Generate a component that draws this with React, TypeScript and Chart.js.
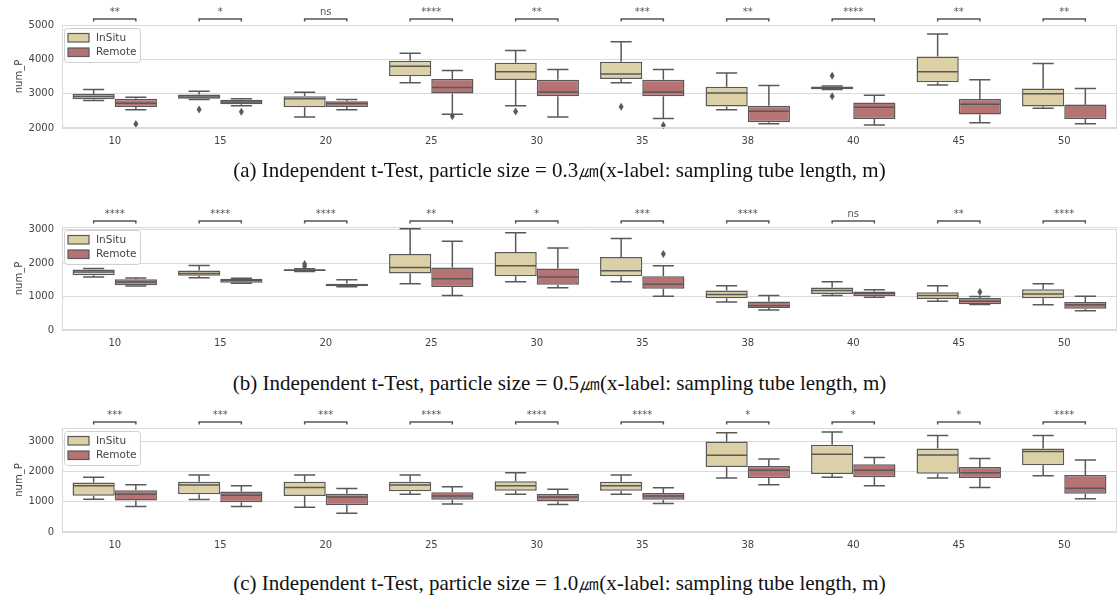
import React, { useEffect, useRef } from 'react';
import { Chart, registerables } from 'chart.js';
Chart.register(...registerables);

const categories = ['10', '15', '20', '25', '30', '35', '38', '40', '45', '50'];
const seriesNames = ['InSitu', 'Remote'];
const yTickValues = [0, 1000, 2000, 3000, 4000, 5000];

// five-number summaries per category: [whiskerLow, q1, median, q3, whiskerHigh]
const aInSitu = [
  [2800, 2840, 2920, 2990, 3120], [2830, 2850, 2900, 2975, 3070], [2320, 2605, 2850, 2925, 3040],
  [3315, 3510, 3800, 3960, 4180], [2650, 3395, 3635, 3900, 4260], [3315, 3430, 3570, 3930, 4510],
  [2535, 2625, 3020, 3200, 3600], [3120, 3130, 3170, 3210, 3225], [3255, 3335, 3635, 4085, 4740],
  [2575, 2625, 2995, 3150, 3880],
];
const aRemote = [
  [2535, 2615, 2720, 2855, 2895], [2650, 2690, 2760, 2825, 2850], [2535, 2615, 2710, 2780, 2830],
  [2400, 3005, 3180, 3430, 3675], [2320, 2925, 3050, 3405, 3705], [2275, 2925, 3050, 3405, 3705],
  [2125, 2165, 2485, 2650, 3235], [2090, 2265, 2605, 2740, 2955], [2155, 2390, 2690, 2845, 3405],
  [2125, 2265, 2655, 2680, 3150],
];
const aInSituOut = [[], [2540], [], [], [2480], [2620], [], [3520, 2925], [], []];
const aRemoteOut = [[2115], [2470], [], [2340], [], [2080], [], [], [], []];
const aSig = ['**', '*', 'ns', '****', '**', '***', '**', '****', '**', '**'];

const bInSitu = [
  [1585, 1635, 1735, 1810, 1840], [1565, 1625, 1690, 1780, 1930], [1750, 1765, 1790, 1815, 1830],
  [1385, 1690, 1870, 2270, 3030], [1445, 1605, 1920, 2335, 2910], [1445, 1605, 1770, 2180, 2735],
  [840, 950, 1060, 1180, 1325], [1030, 1080, 1180, 1270, 1445], [860, 930, 1030, 1130, 1325],
  [755, 950, 1080, 1220, 1385],
];
const bRemote = [
  [1315, 1335, 1435, 1515, 1555], [1400, 1415, 1485, 1535, 1545], [1290, 1305, 1355, 1385, 1505],
  [1030, 1285, 1535, 1870, 2655], [1260, 1355, 1585, 1840, 2455], [1010, 1230, 1365, 1605, 1920],
  [595, 655, 725, 850, 1030], [980, 1020, 1100, 1150, 1200], [765, 770, 860, 960, 1000],
  [575, 635, 755, 840, 1010],
];
const bInSituOut = [[], [], [1910, 1970], [], [], [], [], [], [], []];
const bRemoteOut = [[], [], [], [], [], [2270], [], [], [1140], []];
const bSig = ['****', '****', '****', '**', '*', '***', '****', 'ns', '**', '****'];

const cInSitu = [
  [1090, 1205, 1535, 1645, 1820], [1080, 1250, 1555, 1670, 1895], [820, 1195, 1475, 1670, 1895],
  [1250, 1350, 1555, 1670, 1895], [1250, 1365, 1535, 1680, 1965], [1250, 1365, 1535, 1670, 1895],
  [1795, 2160, 2545, 3000, 3295], [1820, 1920, 2580, 2895, 3315], [1795, 1930, 2555, 2770, 3205],
  [1865, 2215, 2670, 2770, 3205],
];
const cRemote = [
  [850, 1045, 1250, 1385, 1570], [850, 990, 1215, 1340, 1535], [625, 885, 1160, 1270, 1445],
  [930, 1070, 1195, 1320, 1500], [910, 1020, 1160, 1260, 1420], [945, 1070, 1195, 1295, 1465],
  [1570, 1795, 2045, 2190, 2420], [1535, 1820, 2045, 2250, 2475], [1475, 1795, 1965, 2160, 2440],
  [1100, 1270, 1455, 1895, 2385],
];
const cInSituOut = [[], [], [], [], [], [], [], [], [], []];
const cRemoteOut = [[], [], [], [], [], [], [], [], [], []];
const cSig = ['***', '***', '***', '****', '****', '****', '*', '*', '*', '****'];

const captions = [
  '(a) Independent t-Test, particle size = 0.3㎛(x-label: sampling tube length, m)',
  '(b) Independent t-Test, particle size = 0.5㎛(x-label: sampling tube length, m)',
  '(c) Independent t-Test, particle size = 1.0㎛(x-label: sampling tube length, m)',
];

const FILLS = ['#dcd0a6', '#b57373'];
const EDGE = '#595959';
const GRID = '#dadada';
const TEXT = '#444444';
const SANS = "'DejaVu Sans', sans-serif";

type PanelProps = {
  top: number;
  insitu: number[][];
  remote: number[][];
  insituOut: number[][];
  remoteOut: number[][];
  sig: string[];
  yMin: number;
  yMax: number;
  padTop: number;
  padBottom: number;
};

function BoxPanel(p: PanelProps) {
  const ref = useRef<HTMLCanvasElement>(null);
  useEffect(() => {
    const summaries = [p.insitu, p.remote];
    const outs = [p.insituOut, p.remoteOut];
    const boxPlugin = {
      id: 'boxExtras',
      afterDatasetsDraw(chart: any) {
        const ctx = chart.ctx;
        const y = chart.scales.y;
        ctx.save();
        ctx.strokeStyle = EDGE;
        ctx.fillStyle = EDGE;
        ctx.lineWidth = 1.5;
        for (let d = 0; d < 2; d++) {
          const meta = chart.getDatasetMeta(d);
          meta.data.forEach((bar: any, i: number) => {
            const { x, width } = bar.getProps(['x', 'width'], true);
            const [lo, q1, med, q3, hi] = summaries[d][i];
            const cap = width / 4;
            ctx.beginPath();
            ctx.moveTo(x, y.getPixelForValue(q3));
            ctx.lineTo(x, y.getPixelForValue(hi));
            ctx.moveTo(x - cap, y.getPixelForValue(hi));
            ctx.lineTo(x + cap, y.getPixelForValue(hi));
            ctx.moveTo(x, y.getPixelForValue(q1));
            ctx.lineTo(x, y.getPixelForValue(lo));
            ctx.moveTo(x - cap, y.getPixelForValue(lo));
            ctx.lineTo(x + cap, y.getPixelForValue(lo));
            ctx.stroke();
            ctx.beginPath();
            ctx.moveTo(x - width / 2 + 0.75, y.getPixelForValue(med));
            ctx.lineTo(x + width / 2 - 0.75, y.getPixelForValue(med));
            ctx.stroke();
            outs[d][i].forEach((v: number) => {
              const py = y.getPixelForValue(v);
              ctx.beginPath();
              ctx.moveTo(x, py - 4);
              ctx.lineTo(x + 2.5, py);
              ctx.lineTo(x, py + 4);
              ctx.lineTo(x - 2.5, py);
              ctx.closePath();
              ctx.fill();
            });
          });
        }
        ctx.restore();
      },
      afterDraw(chart: any) {
        const ctx = chart.ctx;
        const area = chart.chartArea;
        ctx.save();
        // frame
        ctx.strokeStyle = GRID;
        ctx.lineWidth = 1;
        ctx.strokeRect(area.left + 0.5, area.top + 0.5, area.right - area.left - 1, area.bottom - area.top - 1);
        // significance brackets
        const m0 = chart.getDatasetMeta(0);
        const m1 = chart.getDatasetMeta(1);
        ctx.strokeStyle = '#555555';
        ctx.lineWidth = 1.5;
        ctx.fillStyle = '#555555';
        ctx.font = `10px ${SANS}`;
        ctx.textAlign = 'center';
        ctx.textBaseline = 'alphabetic';
        const by = area.top - 6;
        for (let i = 0; i < categories.length; i++) {
          const x0 = m0.data[i].getProps(['x'], true).x;
          const x1 = m1.data[i].getProps(['x'], true).x;
          ctx.beginPath();
          ctx.moveTo(x0, by + 2.5);
          ctx.lineTo(x0, by);
          ctx.lineTo(x1, by);
          ctx.lineTo(x1, by + 2.5);
          ctx.stroke();
          ctx.fillText(p.sig[i], (x0 + x1) / 2, area.top - 10);
        }
        // legend
        const lx = area.left + 2;
        const ly = area.top + 3;
        ctx.fillStyle = 'rgba(255,255,255,0.85)';
        ctx.strokeStyle = '#d0d0d0';
        ctx.lineWidth = 1;
        ctx.beginPath();
        ctx.roundRect(lx + 0.5, ly + 0.5, 76, 34, 3);
        ctx.fill();
        ctx.stroke();
        ctx.font = `10.5px ${SANS}`;
        ctx.textAlign = 'left';
        ctx.textBaseline = 'middle';
        seriesNames.forEach((name, k) => {
          const ry = ly + 9.5 + k * 14.5;
          ctx.fillStyle = FILLS[k];
          ctx.fillRect(lx + 4, ry - 4, 21, 8.5);
          ctx.strokeStyle = EDGE;
          ctx.lineWidth = 1.2;
          ctx.strokeRect(lx + 4, ry - 4, 21, 8.5);
          ctx.fillStyle = TEXT;
          ctx.fillText(name, lx + 32, ry + 0.5);
        });
        ctx.restore();
      },
    };

    const chart = new Chart(ref.current as HTMLCanvasElement, {
      type: 'bar',
      data: {
        labels: categories,
        datasets: [p.insitu, p.remote].map((s, k) => ({
          label: seriesNames[k],
          data: s.map((r) => [r[1], r[3]]),
          backgroundColor: FILLS[k],
          borderColor: EDGE,
          borderWidth: 1.5,
          borderSkipped: false,
          categoryPercentage: 0.8,
          barPercentage: 1.0,
        })) as any,
      },
      options: {
        responsive: false,
        animation: false,
        layout: { padding: { top: p.padTop, bottom: p.padBottom, left: 0, right: 2 } },
        plugins: { legend: { display: false }, tooltip: { enabled: false } },
        scales: {
          x: {
            grid: { display: false, drawTicks: false },
            border: { display: false },
            ticks: { color: TEXT, font: { family: SANS, size: 10 }, padding: 7 },
            afterFit: (s: any) => { s.height = 25; },
          },
          y: {
            min: p.yMin,
            max: p.yMax,
            ticks: {
              stepSize: 1000,
              color: TEXT,
              font: { family: SANS, size: 10 },
              padding: 8,
              callback: (v: any) => String(v),
            },
            afterBuildTicks: (axis: any) => {
              axis.ticks = yTickValues.filter((v) => v >= p.yMin && v <= p.yMax).map((v) => ({ value: v }));
            },
            grid: { color: GRID, drawTicks: false, lineWidth: 1 },
            border: { display: false },
            title: {
              display: true,
              text: 'num_P',
              color: TEXT,
              font: { family: SANS, size: 10 },
              padding: { top: 13, bottom: 0 },
            },
            afterFit: (s: any) => { s.width = 62; },
          },
        },
      } as any,
      plugins: [boxPlugin],
    });
    return () => chart.destroy();
  }, []);
  return (
    <canvas
      ref={ref}
      width={1119}
      height={160}
      style={{ position: 'absolute', left: 0, top: p.top, width: 1119, height: 160 }}
    />
  );
}

function Caption({ text, centerY }: { text: string; centerY: number }) {
  return (
    <div
      style={{
        position: 'absolute',
        left: 0,
        top: centerY - 12,
        width: 1119,
        height: 24,
        lineHeight: '24px',
        textAlign: 'center',
        fontFamily: "'Liberation Serif', 'Times New Roman', serif",
        fontSize: 21,
        color: '#111',
        whiteSpace: 'nowrap',
      }}
    >
      {text}
    </div>
  );
}

export default function App() {
  return (
    <div style={{ position: 'absolute', left: 0, top: 0, width: 1119, height: 595, background: '#fff', overflow: 'hidden' }}>
      <BoxPanel top={0} insitu={aInSitu} remote={aRemote} insituOut={aInSituOut} remoteOut={aRemoteOut} sig={aSig} yMin={2000} yMax={5000} padTop={25} padBottom={7} />
      <Caption text={captions[0]} centerY={170} />
      <BoxPanel top={200} insitu={bInSitu} remote={bRemote} insituOut={bInSituOut} remoteOut={bRemoteOut} sig={bSig} yMin={0} yMax={3080} padTop={27} padBottom={5} />
      <Caption text={captions[1]} centerY={383} />
      <BoxPanel top={400} insitu={cInSitu} remote={cRemote} insituOut={cInSituOut} remoteOut={cRemoteOut} sig={cSig} yMin={0} yMax={3450} padTop={28} padBottom={3} />
      <Caption text={captions[2]} centerY={583} />
    </div>
  );
}
